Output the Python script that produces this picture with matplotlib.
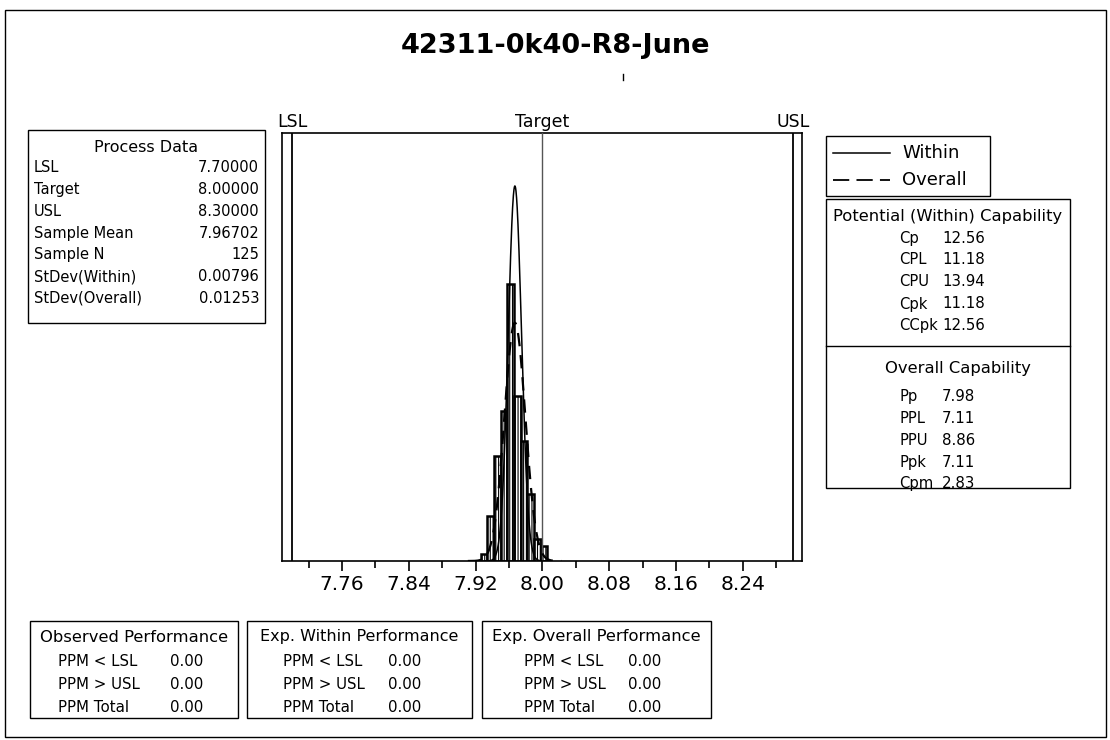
import numpy as np
import matplotlib
matplotlib.use("Agg")
import matplotlib.pyplot as plt
from matplotlib.patches import Rectangle
from matplotlib.lines import Line2D

plt.rcParams['font.family'] = ['DejaVu Sans']
plt.rcParams['hatch.linewidth'] = 0.8

# ---------------- data ----------------
title = "42311-0k40-R8-June"
LSL, TARGET, USL = 7.70, 8.00, 8.30
sample_mean = 7.96702
sample_n = 125
sd_within = 0.00796
sd_overall = 0.01253

bin_width = 0.008
bin_centers = [7.930, 7.938, 7.946, 7.954, 7.962, 7.970, 7.978, 7.986, 7.994, 8.002]
counts = [1, 6, 14, 20, 37, 22, 16, 9, 3, 2]

major_ticks = [7.76, 7.84, 7.92, 8.00, 8.08, 8.16, 8.24]
minor_ticks = [7.72, 7.80, 7.88, 7.96, 8.04, 8.12, 8.20, 8.28]

proc_labels = ["LSL", "Target", "USL", "Sample Mean", "Sample N", "StDev(Within)", "StDev(Overall)"]
proc_values = ["7.70000", "8.00000", "8.30000", "7.96702", "125", "0.00796", "0.01253"]

pot_labels = ["Cp", "CPL", "CPU", "Cpk", "CCpk"]
pot_values = ["12.56", "11.18", "13.94", "11.18", "12.56"]
ovr_labels = ["Pp", "PPL", "PPU", "Ppk", "Cpm"]
ovr_values = ["7.98", "7.11", "8.86", "7.11", "2.83"]

perf_titles = ["Observed Performance", "Exp. Within Performance", "Exp. Overall Performance"]
ppm_labels = ["PPM < LSL", "PPM > USL", "PPM Total"]
ppm_values = [["0.00", "0.00", "0.00"], ["0.00", "0.00", "0.00"], ["0.00", "0.00", "0.00"]]

# ---------------- figure ----------------
W, H = 1110, 740
fig = plt.figure(figsize=(W / 100, H / 100), dpi=100)
fig.patch.set_facecolor("white")


def fx(x):
    return x / W


def fy(y):
    return 1 - y / H


def box(x0, y0, x1, y1, lw=1.0):
    fig.add_artist(Rectangle((fx(x0), fy(y1)), fx(x1) - fx(x0), fy(y0) - fy(y1),
                             transform=fig.transFigure, fill=False, edgecolor="black", lw=lw))


def hline(x0, x1, y, lw=1.0):
    fig.add_artist(Line2D([fx(x0), fx(x1)], [fy(y), fy(y)], transform=fig.transFigure,
                          color="black", lw=lw))


def txt(x, y, s, ha="left", size=11.5, **kw):
    fig.text(fx(x), fy(y), s, ha=ha, va="center", size=size, color="black", **kw)


# outer frame
box(5, 10, 1106, 737, lw=1.0)

# title
txt(555, 46, title, ha="center", size=19.5, fontweight="bold")
fig.add_artist(Line2D([fx(623), fx(623)], [fy(74), fy(80)], transform=fig.transFigure,
                      color="black", lw=1.0))

# ---------------- main axes ----------------
ax = fig.add_axes([fx(282), fy(561), fx(802) - fx(282), fy(133) - fy(561)])
ax.set_xlim(7.688, 8.311)

ax.bar(bin_centers, counts, width=bin_width, color="white", edgecolor="black",
       linewidth=1.8, hatch="||||||", zorder=2)

xs_w = np.linspace(sample_mean - 4.5 * sd_within, sample_mean + 4.5 * sd_within, 300)
xs_o = np.linspace(sample_mean - 4.5 * sd_overall, sample_mean + 4.5 * sd_overall, 300)
scale = sample_n * bin_width
pdf_w = scale * np.exp(-0.5 * ((xs_w - sample_mean) / sd_within) ** 2) / (sd_within * np.sqrt(2 * np.pi))
pdf_o = scale * np.exp(-0.5 * ((xs_o - sample_mean) / sd_overall) ** 2) / (sd_overall * np.sqrt(2 * np.pi))
ax.plot(xs_w, pdf_w, color="black", lw=1.1, zorder=4)
ax.plot(xs_o, pdf_o, color="black", lw=1.6, ls=(0, (6, 4)), zorder=4)
ax.set_ylim(0, pdf_w.max() * 428 / 375)

ax.axvline(LSL, color="black", lw=1.3, zorder=3)
ax.axvline(USL, color="black", lw=1.3, zorder=3)
ax.axvline(TARGET, color="#555555", lw=1.0, zorder=3)

ax.set_xticks(major_ticks)
ax.set_xticklabels([f"{t:.2f}" for t in major_ticks])
ax.set_xticks(minor_ticks, minor=True)
ax.set_yticks([])
ax.tick_params(axis="x", which="major", direction="out", length=7, width=1.2,
               labelsize=14.5, pad=3)
ax.tick_params(axis="x", which="minor", direction="out", length=5, width=1.2)
for sp in ax.spines.values():
    sp.set_linewidth(1.2)

lab_y = 1.0 + 2 / 428
for xv, s in [(LSL, "LSL"), (TARGET, "Target"), (USL, "USL")]:
    ax.text(xv, lab_y, s, transform=ax.get_xaxis_transform(), ha="center", va="bottom",
            size=12.5)

# ---------------- Process Data box ----------------
box(28, 130, 265, 323)
txt(146, 147, "Process Data", ha="center", size=11.5)
for i, (lab, val) in enumerate(zip(proc_labels, proc_values)):
    y = 168 + i * 21.7
    txt(34, y, lab, size=10.5)
    txt(259, y, val, ha="right", size=10.5)

# ---------------- legend box ----------------
box(826, 136, 990, 196)
fig.add_artist(Line2D([fx(833), fx(890)], [fy(153), fy(153)], transform=fig.transFigure,
                      color="black", lw=1.1))
fig.add_artist(Line2D([fx(833), fx(890)], [fy(180), fy(180)], transform=fig.transFigure,
                      color="black", lw=1.3, ls=(0, (9, 4))))
txt(902, 153, "Within", size=13)
txt(902, 180, "Overall", size=13)

# ---------------- capability box ----------------
box(826, 199, 1070, 488)
hline(826, 1070, 346)
txt(948, 216, "Potential (Within) Capability", ha="center", size=11.8)
for i, (lab, val) in enumerate(zip(pot_labels, pot_values)):
    y = 238 + i * 22
    txt(899, y, lab, size=10.6)
    txt(942, y, val, size=10.8)
txt(958, 369, "Overall Capability", ha="center", size=11.8)
for i, (lab, val) in enumerate(zip(ovr_labels, ovr_values)):
    y = 397 + i * 21.7
    txt(899, y, lab, size=10.6)
    txt(942, y, val, size=10.8)

# ---------------- performance boxes ----------------
perf_boxes = [(30, 238), (247, 472), (482, 711)]
perf_sizes = [11.8, 11.5, 11.8]
label_x = [58, 283, 524]
value_x = [170, 388, 628]
for k, ((x0, x1), ttl) in enumerate(zip(perf_boxes, perf_titles)):
    box(x0, 621, x1, 718)
    txt((x0 + x1) / 2, 637, ttl, ha="center", size=perf_sizes[k])
    for i, lab in enumerate(ppm_labels):
        y = 661 + i * 23.5
        txt(label_x[k], y, lab, size=10.8)
        txt(value_x[k], y, ppm_values[k][i], size=10.8)

fig.savefig("out.png", dpi=100, facecolor="white")
